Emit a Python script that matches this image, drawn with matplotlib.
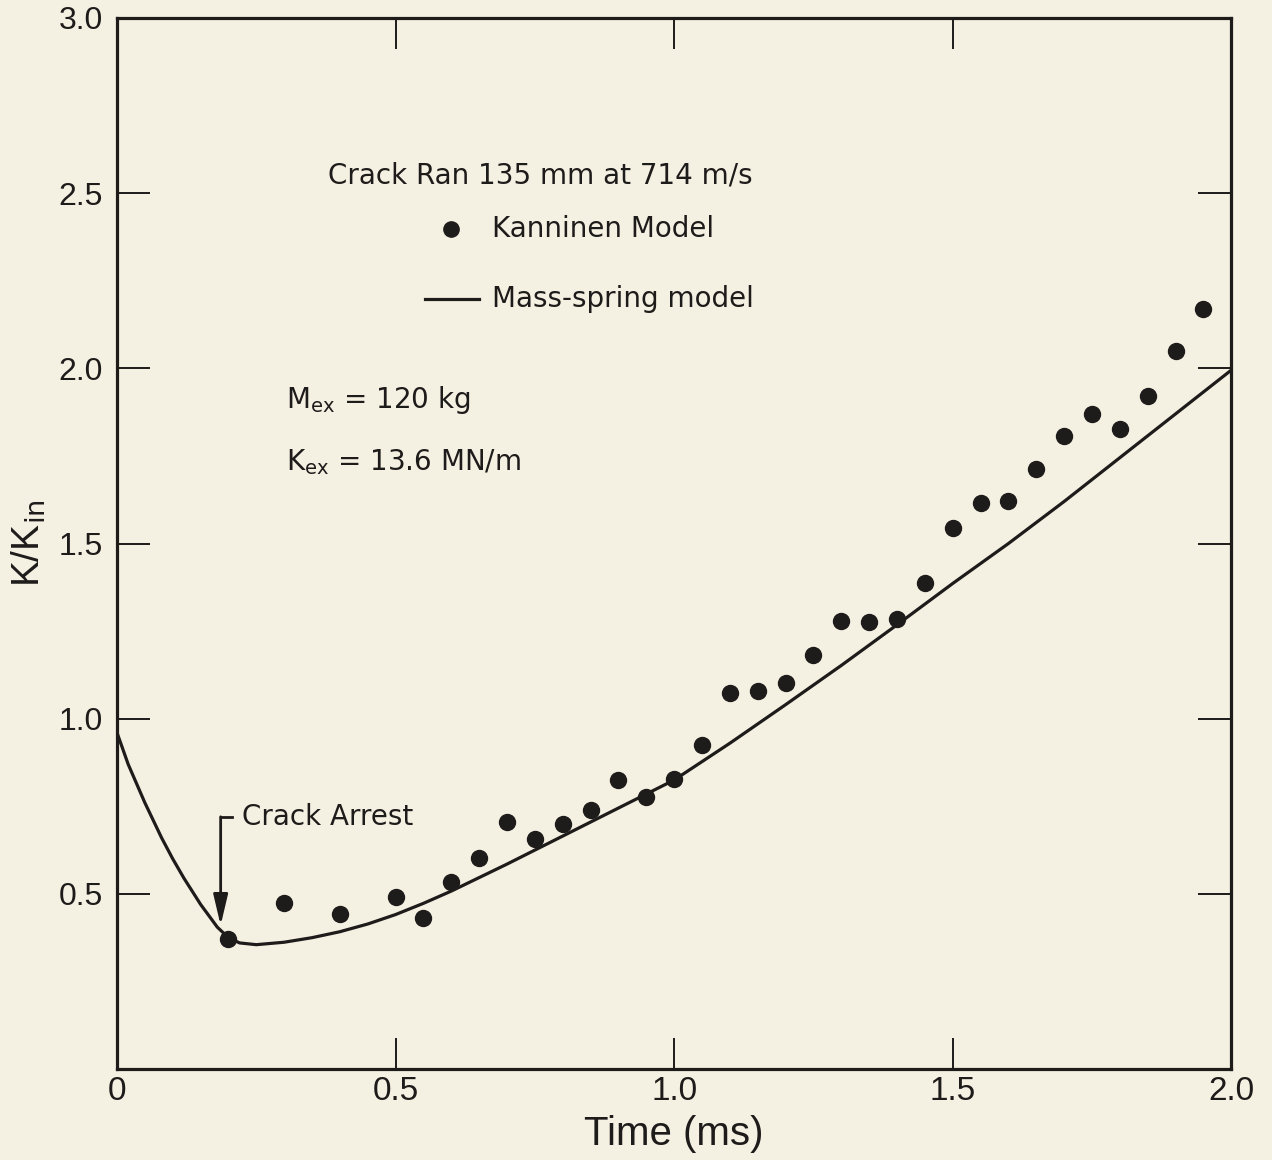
import numpy as np
import matplotlib.pyplot as plt

# Kanninen model results (K/K_in vs time)
kann_t = [0.20, 0.30, 0.40, 0.50, 0.55, 0.60, 0.65, 0.70, 0.75, 0.80, 0.85,
          0.90, 0.95, 1.00, 1.05, 1.10, 1.15, 1.20, 1.25, 1.30, 1.35, 1.40,
          1.45, 1.50, 1.55, 1.60, 1.65, 1.70, 1.75, 1.80, 1.85, 1.90, 1.95]
kann_k = [0.371, 0.474, 0.442, 0.491, 0.431, 0.534, 0.602, 0.705, 0.656,
          0.699, 0.739, 0.825, 0.776, 0.827, 0.924, 1.073, 1.078, 1.101,
          1.181, 1.278, 1.275, 1.284, 1.387, 1.544, 1.615, 1.621, 1.712,
          1.806, 1.869, 1.826, 1.920, 2.049, 2.168]

# Mass-spring model curve
ms_t = [0.0, 0.02, 0.05, 0.08, 0.10, 0.12, 0.15, 0.18, 0.20, 0.22, 0.25,
        0.30, 0.35, 0.40, 0.45, 0.50, 0.55, 0.60, 0.70, 0.80, 0.90, 1.00,
        1.10, 1.20, 1.30, 1.40, 1.50, 1.60, 1.70, 1.80, 1.90, 2.00]
ms_k = [0.96, 0.87, 0.76, 0.66, 0.60, 0.545, 0.47, 0.405, 0.375, 0.360,
        0.355, 0.362, 0.375, 0.392, 0.414, 0.441, 0.473, 0.508, 0.585,
        0.665, 0.745, 0.825, 0.930, 1.040, 1.152, 1.268, 1.386, 1.500,
        1.620, 1.745, 1.870, 1.995]

xticks = [0, 0.5, 1.0, 1.5, 2.0]
xticklabels = ['0', '0.5', '1.0', '1.5', '2.0']
yticks = [0.5, 1.0, 1.5, 2.0, 2.5, 3.0]
yticklabels = ['0.5', '1.0', '1.5', '2.0', '2.5', '3.0']

bg = '#f5f1e2'
ink = '#1e1b1b'

plt.rcParams['font.family'] = ['Liberation Sans', 'DejaVu Sans']
plt.rcParams['mathtext.fontset'] = 'custom'
plt.rcParams['mathtext.rm'] = 'DejaVu Sans'
plt.rcParams['mathtext.it'] = 'DejaVu Sans'

fig = plt.figure(figsize=(12.72, 11.6), dpi=100, facecolor=bg)
ax = fig.add_axes([0.092, 0.0784, 0.876, 0.9061], facecolor=bg)

ax.plot(ms_t, ms_k, color=ink, lw=2.3, solid_capstyle='round',
        solid_joinstyle='round')
ax.plot(kann_t, kann_k, 'o', color=ink, ms=11.5, mec=ink)

ax.set_xlim(0, 2.0)
ax.set_ylim(0, 3.0)

ax.set_xticks(xticks)
ax.set_xticklabels(xticklabels, fontsize=24)
ax.set_yticks(yticks)
ax.set_yticklabels(yticklabels, fontsize=23)
ax.tick_params(axis='x', direction='in', length=22, width=1.4, color=ink,
               top=True, pad=5, labelcolor=ink)
ax.tick_params(axis='y', direction='in', length=24, width=1.4, color=ink,
               right=True, pad=10, labelcolor=ink)
for s in ax.spines.values():
    s.set_linewidth(2.3)
    s.set_color(ink)

ax.set_xlabel('Time (ms)', fontsize=29, color=ink, labelpad=6)
ax.set_ylabel(r'K/K$_{\mathrm{in}}$', fontsize=28, color=ink, labelpad=8)

note = dict(fontsize=20, color=ink, va='center', family='DejaVu Sans')

# key
ax.text(0.379, 2.55, 'Crack Ran 135 mm at 714 m/s', **note)
ax.plot([0.6], [2.397], 'o', color=ink, ms=11)
ax.text(0.673, 2.397, 'Kanninen Model', **note)
ax.plot([0.552, 0.65], [2.197, 2.197], color=ink, lw=2.3)
ax.text(0.673, 2.197, 'Mass-spring model', **note)

ax.text(0.304, 1.909, r'M$_{\mathrm{ex}}$ = 120 kg', **note)
ax.text(0.304, 1.732, r'K$_{\mathrm{ex}}$ = 13.6 MN/m', **note)

# crack arrest marker
ax.annotate('', xy=(0.186, 0.41), xytext=(0.186, 0.72),
            arrowprops=dict(arrowstyle='-|>,head_length=0.85,head_width=0.2',
                            color=ink, lw=2, mutation_scale=22,
                            shrinkA=0, shrinkB=0))
ax.plot([0.186, 0.207], [0.72, 0.72], color=ink, lw=2)
ax.text(0.225, 0.72, 'Crack Arrest', **note)

fig.savefig('out.png', dpi=100, facecolor=bg)
